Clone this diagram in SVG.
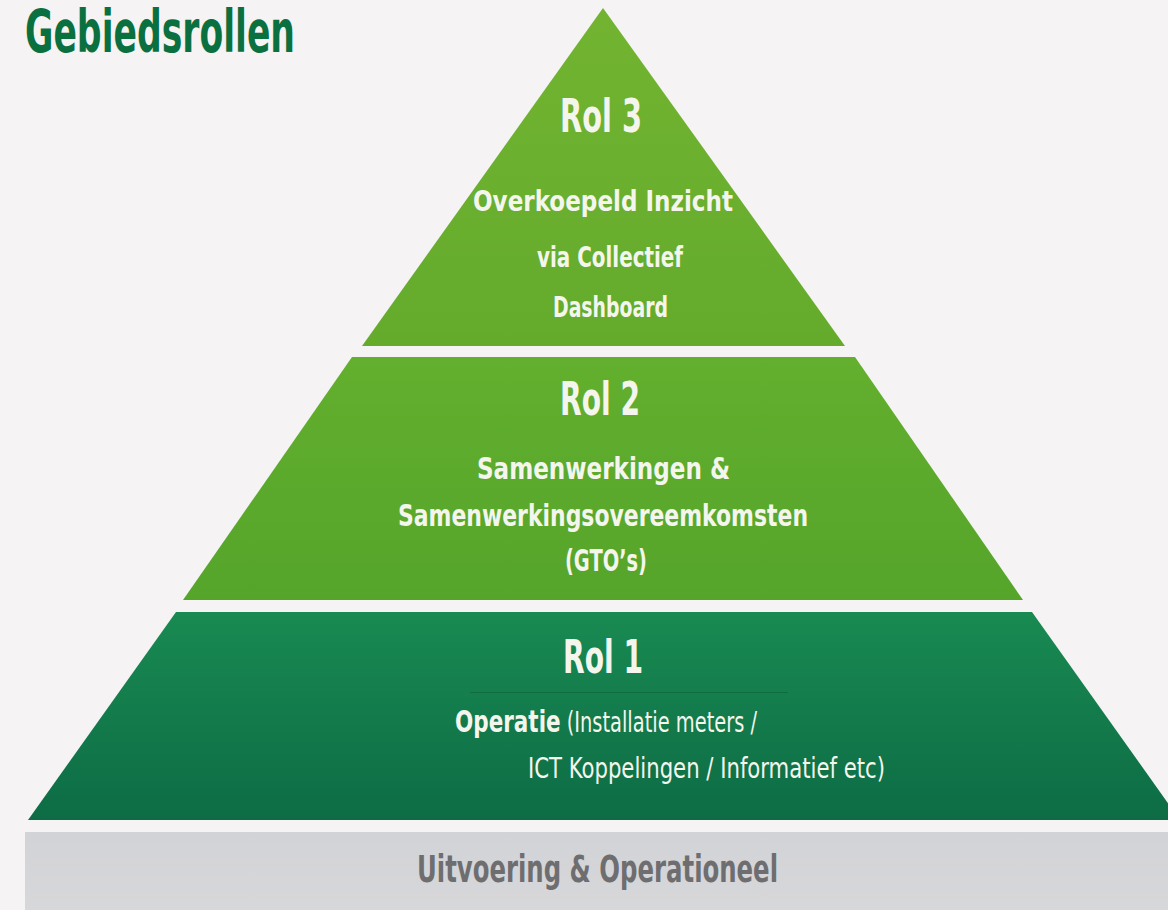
<svg xmlns="http://www.w3.org/2000/svg" width="1168" height="910" viewBox="0 0 1168 910">
  <defs>
    <linearGradient id="g1" x1="0" y1="0" x2="0" y2="1">
      <stop offset="0" stop-color="#72b431"/>
      <stop offset="1" stop-color="#64ab2c"/>
    </linearGradient>
    <linearGradient id="g2" x1="0" y1="0" x2="0" y2="1">
      <stop offset="0" stop-color="#63af2e"/>
      <stop offset="1" stop-color="#55a52b"/>
    </linearGradient>
    <linearGradient id="g3" x1="0" y1="0" x2="0" y2="1">
      <stop offset="0" stop-color="#198a52"/>
      <stop offset="1" stop-color="#0d6c45"/>
    </linearGradient>
    <linearGradient id="gb" x1="0" y1="0" x2="0" y2="1">
      <stop offset="0" stop-color="#d2d3d6"/>
      <stop offset="1" stop-color="#d8d8db"/>
    </linearGradient>
  </defs>
  <style>
    .t { font-family: "Liberation Sans Narrow", "DejaVu Sans Condensed", "Liberation Sans", sans-serif; font-weight: bold; fill: #f4f6ee; }
    .h { font-size: 46px; }
    .s { font-size: 31px; }
    .r { font-weight: normal; font-size: 28px; }
  </style>
  <rect x="0" y="0" width="1168" height="910" fill="#f5f3f4"/>

  <g id="title">
    <text class="t" x="25" y="52" font-size="58" style="fill:#0b7040" textLength="270" lengthAdjust="spacingAndGlyphs">Gebiedsrollen</text>
  </g>

  <g id="rol3">
    <polygon points="603,8 845,346 362,346" fill="url(#g1)"/>
    <text class="t h" x="560" y="132" textLength="82" lengthAdjust="spacingAndGlyphs">Rol 3</text>
    <text class="t" x="473" y="211" font-size="29" textLength="260" lengthAdjust="spacingAndGlyphs">Overkoepeld Inzicht</text>
    <text class="t" x="537" y="267" font-size="29" textLength="146" lengthAdjust="spacingAndGlyphs">via Collectief</text>
    <text class="t" x="553" y="317" font-size="29" textLength="115" lengthAdjust="spacingAndGlyphs">Dashboard</text>
  </g>

  <g id="rol2">
    <polygon points="352,357 855,357 1023,600 183,600" fill="url(#g2)"/>
    <text class="t h" x="560" y="415" textLength="80" lengthAdjust="spacingAndGlyphs">Rol 2</text>
    <text class="t s" x="477" y="479" textLength="253" lengthAdjust="spacingAndGlyphs">Samenwerkingen &amp;</text>
    <text class="t s" x="398" y="526" textLength="410" lengthAdjust="spacingAndGlyphs">Samenwerkingsovereemkomsten</text>
    <text class="t s" x="565" y="571" textLength="82" lengthAdjust="spacingAndGlyphs">(GTO’s)</text>
  </g>

  <g id="rol1">
    <polygon points="176,612 1032,612 1180,820 28,820" fill="url(#g3)"/>
    <text class="t h" x="563" y="673" textLength="80" lengthAdjust="spacingAndGlyphs">Rol 1</text>
    <line x1="470" y1="692.5" x2="788" y2="692.5" stroke="#0c5e38" stroke-width="1" opacity="0.6"/>
    <text class="t r" x="455" y="732" textLength="302" lengthAdjust="spacingAndGlyphs"><tspan font-weight="bold" font-size="31">Operatie</tspan> (Installatie meters /</text>
    <text class="t r" x="528" y="778" textLength="357" lengthAdjust="spacingAndGlyphs">ICT Koppelingen / Informatief etc)</text>
  </g>

  <g id="basis">
    <rect x="25" y="832" width="1160" height="90" fill="url(#gb)"/>
    <text class="t" x="417" y="882" font-size="37" style="fill:#6e6e70" textLength="361" lengthAdjust="spacingAndGlyphs">Uitvoering &amp; Operationeel</text>
  </g>

  <g id="connectors"/>
</svg>
